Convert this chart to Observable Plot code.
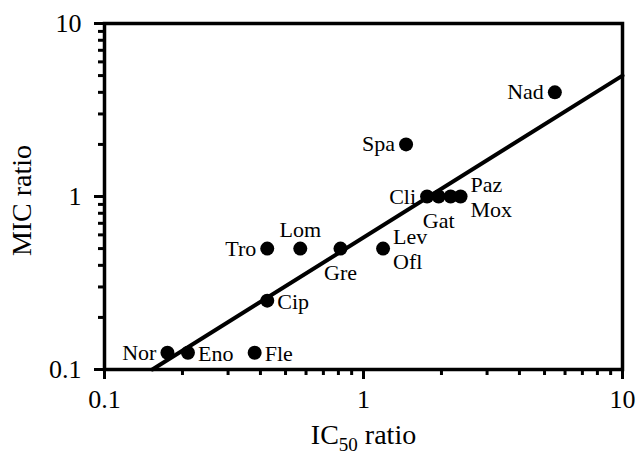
<!DOCTYPE html>
<html>
<head>
<meta charset="utf-8">
<script src="https://cdn.jsdelivr.net/npm/d3@7"></script>
<script src="https://cdn.jsdelivr.net/npm/@observablehq/plot@0.6"></script>
<style>
  html, body { margin: 0; padding: 0; background: #fff; }
  #chart svg { display: block; }
</style>
</head>
<body>
<div id="chart"></div>
<script>
// ---- data ----
const drugs  = ["Nor", "Eno", "Fle", "Cip", "Tro", "Lom", "Gre", "Lev/Ofl", "Spa", "Cli", "Gat", "Paz", "Mox", "Nad"];
const ic50   = [0.175, 0.21, 0.38, 0.425, 0.425, 0.57, 0.815, 1.19, 1.46, 1.76, 1.95, 2.17, 2.37, 5.48];
const mic    = [0.125, 0.125, 0.125, 0.25, 0.5, 0.5, 0.5, 0.5, 2, 1, 1, 1, 1, 4];
const labelText = ["Nor", "Eno", "Fle", "Cip", "Tro", "Lom", "Gre", "Lev\nOfl", "Spa", "Cli", "Gat", "", "Paz\nMox", "Nad"];
const labelSide = ["left", "right", "right", "right", "left", "top", "bottom", "right", "left", "left", "bottom", "none", "right", "left"];
const majorTicks = [0.1, 1, 10];
const minorTicks = [0.2, 0.3, 0.4, 0.5, 0.6, 0.7, 0.8, 0.9, 2, 3, 4, 5, 6, 7, 8, 9];
const fitX = [0.153, 10];
const fitY = [0.1, 5.0];
const xTitle = "IC50 ratio";
const yTitle = "MIC ratio";

const pts = drugs.map((d, i) => ({name: d, label: labelText[i], side: labelSide[i], x: ic50[i], y: mic[i]}));
const fit = fitX.map((x, i) => ({x, y: fitY[i]}));
const side = s => pts.filter(p => p.side === s);

const lblFont = 22;
const chart = Plot.plot({
  width: 640,
  height: 457,
  marginLeft: 104,
  marginRight: 18,
  marginTop: 23,
  marginBottom: 88,
  x: {type: "log", domain: [0.1, 10]},
  y: {type: "log", domain: [0.1, 10]},
  style: {fontFamily: "'Liberation Serif', 'Times New Roman', serif", color: "#000", background: "#fff"},
  marks: [
    Plot.frame({strokeWidth: 3.5, stroke: "#000"}),
    Plot.axisX(minorTicks, {tickSize: 6, strokeWidth: 3, tickFormat: () => "", label: null}),
    Plot.axisX(majorTicks, {tickSize: 10, strokeWidth: 3, tickPadding: 10, fontSize: 26, tickFormat: d => String(d), label: null}),
    Plot.axisY(minorTicks, {tickSize: 6, strokeWidth: 3, tickFormat: () => "", label: null}),
    Plot.axisY(majorTicks, {tickSize: 10, strokeWidth: 3, tickPadding: 13, fontSize: 26, tickFormat: d => String(d), label: null}),
    Plot.line(fit, {x: "x", y: "y", stroke: "#000", strokeWidth: 4}),
    Plot.dot(pts, {x: "x", y: "y", r: 7, fill: "#000", stroke: "none"}),
    Plot.text(side("left"), {x: "x", y: "y", text: "label", textAnchor: "end", dx: -11, fontSize: lblFont, fill: "#000"}),
    Plot.text(side("right"), {x: "x", y: "y", text: "label", textAnchor: "start", dx: 10, fontSize: lblFont, lineHeight: 1.12, fill: "#000"}),
    Plot.text(side("top"), {x: "x", y: "y", text: "label", dy: -19, fontSize: lblFont, fill: "#000"}),
    Plot.text(side("bottom"), {x: "x", y: "y", text: "label", dy: 24, fontSize: lblFont, fill: "#000"}),
    Plot.text([xTitle], {frameAnchor: "bottom", text: d => d, dy: 74, lineAnchor: "bottom", textAnchor: "middle", fontSize: 28, fill: "#000"}),
    Plot.text([yTitle], {frameAnchor: "left", text: d => d, dx: -82, dy: 4, rotate: -90, textAnchor: "middle", fontSize: 28, fill: "#000"})
  ]
});

// subscript "50" in the x title
d3.select(chart).selectAll("text").filter(function() { return this.textContent === xTitle; }).each(function() {
  const t = d3.select(this);
  t.text(null);
  t.append("tspan").text("IC");
  t.append("tspan").attr("font-size", 19).attr("dy", 7).text("50");
  t.append("tspan").attr("dy", -7).text(" ratio");
});

document.getElementById("chart").append(chart);
</script>
</body>
</html>
